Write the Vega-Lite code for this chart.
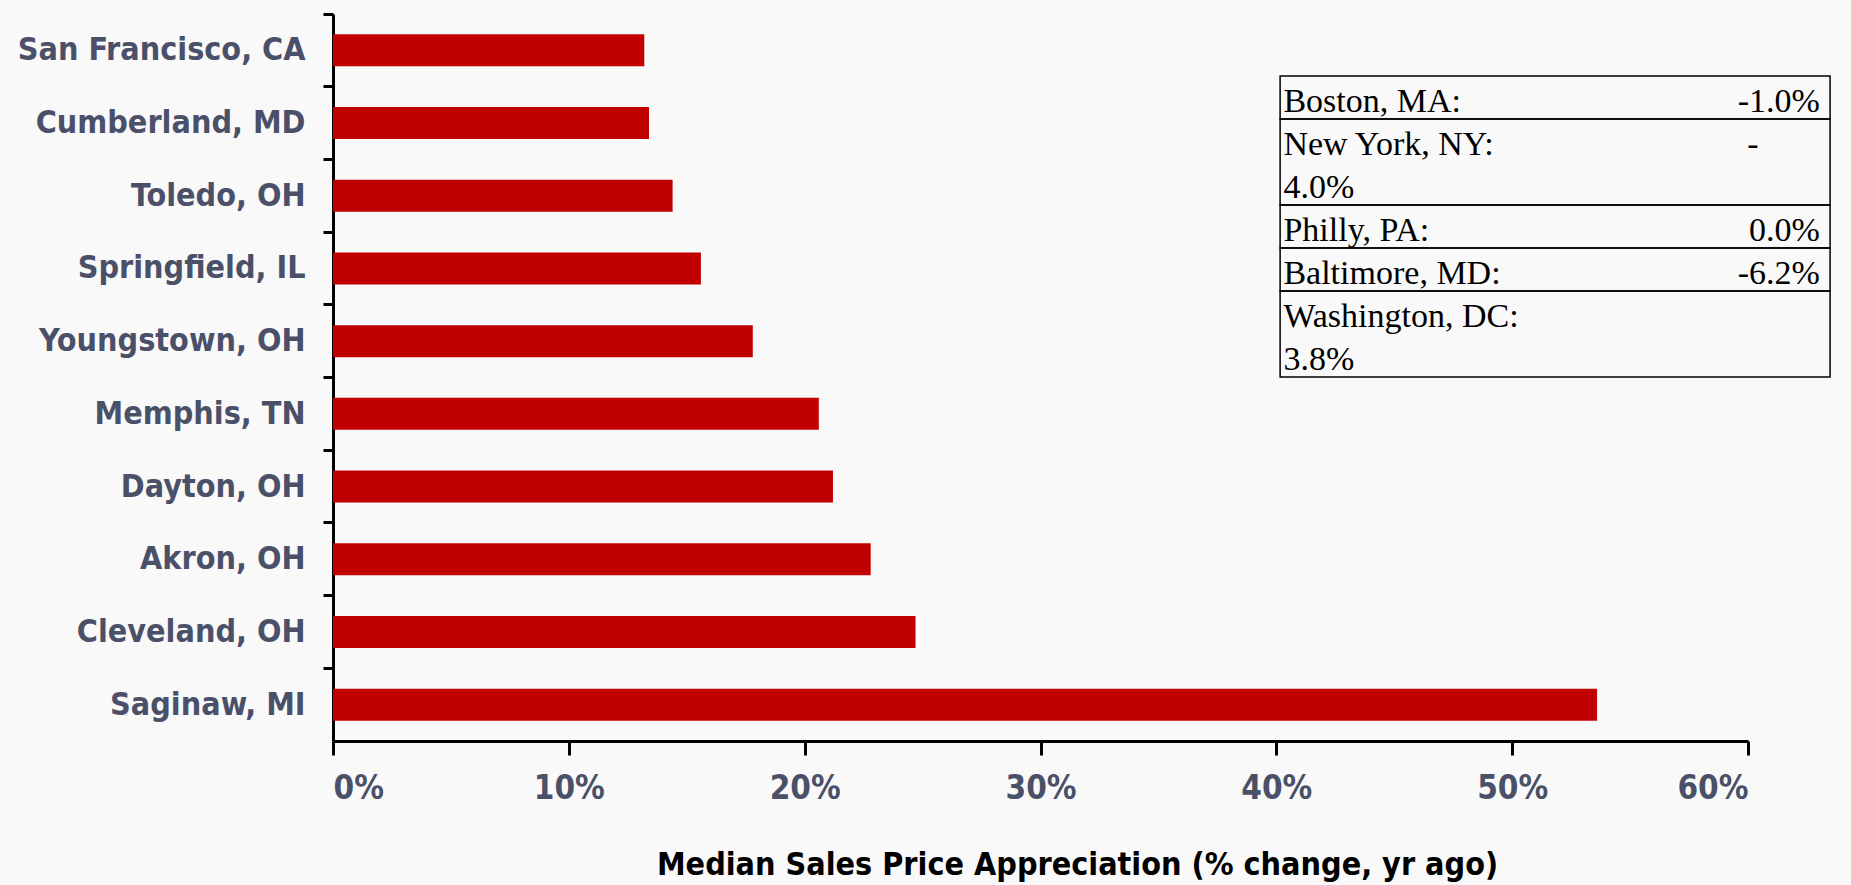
{
  "$schema": "https://vega.github.io/schema/vega-lite/v6.json",
  "width": 1415,
  "height": 727,
  "autosize": {"type": "none"},
  "padding": {"left": 333, "top": 14, "right": 103, "bottom": 144},
  "background": "#f9f9f9",
  "config": {"view": {"stroke": null}},
  "datasets": {
    "cities": [
      {"city": "San Francisco, CA", "pct": 13.2},
      {"city": "Cumberland, MD", "pct": 13.4},
      {"city": "Toledo, OH", "pct": 14.4},
      {"city": "Springfield, IL", "pct": 15.6},
      {"city": "Youngstown, OH", "pct": 17.8},
      {"city": "Memphis, TN", "pct": 20.6},
      {"city": "Dayton, OH", "pct": 21.2},
      {"city": "Akron, OH", "pct": 22.8},
      {"city": "Cleveland, OH", "pct": 24.7},
      {"city": "Saginaw, MI", "pct": 53.6}
    ],
    "table": [
      {"label": "Boston, MA:", "right": "-1.0%", "wrap": "", "top": 0, "bottom": 1},
      {"label": "New York, NY:", "right": "-", "wrap": "4.0%", "top": 1, "bottom": 3},
      {"label": "Philly, PA:", "right": "0.0%", "wrap": "", "top": 3, "bottom": 4},
      {"label": "Baltimore, MD:", "right": "-6.2%", "wrap": "", "top": 4, "bottom": 5},
      {"label": "Washington, DC:", "right": "", "wrap": "3.8%", "top": 5, "bottom": 7}
    ]
  },
  "resolve": {"scale": {"y": "independent"}, "axis": {"y": "independent"}},
  "layer": [
    {
      "data": {"name": "cities"},
      "mark": {"type": "bar", "color": "#c00000", "height": {"band": 0.44}},
      "encoding": {
        "y": {
          "field": "city", "type": "nominal", "sort": null,
          "scale": {"paddingInner": 0, "paddingOuter": 0},
          "axis": {
            "title": null, "domainColor": "#000000", "domainWidth": 3,
            "tickColor": "#000000", "tickWidth": 3, "tickSize": 10, "bandPosition": 0,
            "labelFont": "DejaVu Sans Condensed, Liberation Sans", "labelFontSize": 32, "labelFontWeight": "bold",
            "labelColor": "#4b5069", "labelPadding": 18, "labelLimit": 400, "grid": false
          }
        },
        "x": {
          "field": "pct", "type": "quantitative",
          "scale": {"domain": [0, 60], "nice": false, "zero": true},
          "axis": {
            "values": [0, 10, 20, 30, 40, 50, 60],
            "labelExpr": "datum.value + '%'",
            "grid": false, "domainColor": "#000000", "domainWidth": 3,
            "tickColor": "#000000", "tickWidth": 3, "tickSize": 14,
            "labelFont": "DejaVu Sans Condensed, Liberation Sans", "labelFontSize": 33, "labelFontWeight": "bold",
            "labelColor": "#4b5069", "labelPadding": 17,
            "title": "Median Sales Price Appreciation (% change, yr ago)",
            "titleFont": "DejaVu Sans Condensed, Liberation Sans", "titleFontSize": 32, "titleFontWeight": "bold",
            "titleColor": "#000000", "titlePadding": 44, "titleX": 744, "titleLimit": 1200
          }
        }
      }
    },
    {
      "data": {"name": "table"},
      "mark": {"type": "rect", "fill": null, "stroke": "#000000", "strokeWidth": 1.5},
      "encoding": {
        "x": {"datum": 40.16},
        "x2": {"datum": 63.48},
        "y": {"field": "top", "type": "quantitative", "scale": {"domain": [-1.442, 15.465], "reverse": true, "nice": false, "zero": false}, "axis": null},
        "y2": {"field": "bottom"}
      }
    },
    {
      "data": {"name": "table"},
      "mark": {"type": "text", "align": "left", "baseline": "alphabetic", "dy": 36, "font": "Liberation Serif", "fontSize": 34, "color": "#000000"},
      "encoding": {
        "x": {"datum": 40.3},
        "y": {"field": "top", "type": "quantitative", "scale": {"domain": [-1.442, 15.465], "reverse": true, "nice": false, "zero": false}, "axis": null},
        "text": {"field": "label"}
      }
    },
    {
      "data": {"name": "table"},
      "transform": [{"filter": "datum.wrap != ''"}],
      "mark": {"type": "text", "align": "left", "baseline": "alphabetic", "dy": -7, "font": "Liberation Serif", "fontSize": 34, "color": "#000000"},
      "encoding": {
        "x": {"datum": 40.3},
        "y": {"field": "bottom", "type": "quantitative", "scale": {"domain": [-1.442, 15.465], "reverse": true, "nice": false, "zero": false}, "axis": null},
        "text": {"field": "wrap"}
      }
    },
    {
      "data": {"name": "table"},
      "transform": [{"filter": "datum.right != '' && datum.right != '-'"}],
      "mark": {"type": "text", "align": "right", "baseline": "alphabetic", "dy": 36, "font": "Liberation Serif", "fontSize": 34, "color": "#000000"},
      "encoding": {
        "x": {"datum": 63.05},
        "y": {"field": "top", "type": "quantitative", "scale": {"domain": [-1.442, 15.465], "reverse": true, "nice": false, "zero": false}, "axis": null},
        "text": {"field": "right"}
      }
    },
    {
      "data": {"name": "table"},
      "transform": [{"filter": "datum.right == '-'"}],
      "mark": {"type": "text", "align": "right", "baseline": "alphabetic", "dy": 36, "font": "Liberation Serif", "fontSize": 34, "color": "#000000"},
      "encoding": {
        "x": {"datum": 60.45},
        "y": {"field": "top", "type": "quantitative", "scale": {"domain": [-1.442, 15.465], "reverse": true, "nice": false, "zero": false}, "axis": null},
        "text": {"field": "right"}
      }
    }
  ]
}
